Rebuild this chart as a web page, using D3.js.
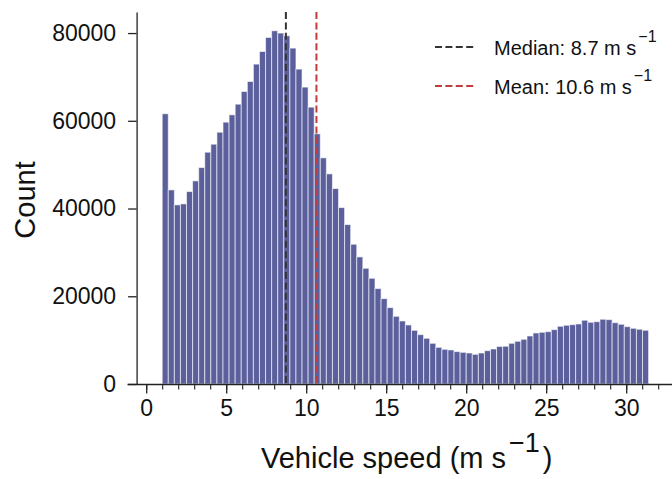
<!DOCTYPE html>
<html>
<head>
<meta charset="utf-8">
<script src="https://cdn.jsdelivr.net/npm/d3@7"></script>
<style>
  html, body { margin: 0; padding: 0; background: #fff; }
  svg { display: block; font-family: "Liberation Sans", Arial, Helvetica, sans-serif; }
</style>
</head>
<body>
<svg id="chart" width="672" height="479"></svg>
<script>
// ---- data ----
const binStart = 1.0;      // m s^-1, left edge of first bin
const binWidth = 0.38;     // m s^-1
const counts = [
  61600, 44250, 40830, 41060, 43870, 46300, 49340, 52840, 54670, 57400,
  59690, 61360, 63790, 66680, 68960, 72920, 75800, 79000, 80520, 80000,
  79380, 76570, 71780, 67680, 63110, 57030, 51550, 47900, 44550, 40220,
  36340, 31860, 28970, 26380, 24100, 21750, 19460, 17410, 15430, 14370,
  13460, 12240, 11250, 10420, 9280, 8360, 7910, 7760, 7380, 7220,
  7070, 6770, 7070, 7600, 7980, 8560, 8600, 9280, 9740, 10190,
  10950, 11630, 11790, 11930, 12390, 13160, 13390, 13530, 13690, 14530,
  14070, 14210, 14760, 14670, 13980, 13620, 13070, 12700, 12480, 12250
];
const xMajorTicks = [0, 5, 10, 15, 20, 25, 30];
const xMinorTicks = d3.range(0, 33, 1);
const yTicks = [0, 20000, 40000, 60000, 80000];
const medianSpeed = 8.73;
const meanSpeed = 10.64;
const stats = [
  { label: "Median", value: medianSpeed, color: "#333333" },
  { label: "Mean", value: meanSpeed, color: "#c23b3b" }
];

// ---- scales ----
const svg = d3.select("#chart");
const x = d3.scaleLinear().domain([-1.2, 32.9]).range([127, 672.6]);
const y = d3.scaleLinear().domain([0, 84800]).range([384, 12]);
const yAxisX = x(-0.6);

const bins = counts.map((c, i) => ({
  x0: binStart + i * binWidth,
  x1: binStart + (i + 1) * binWidth,
  count: c
}));

// ---- bars ----
svg.append("g")
  .selectAll("rect")
  .data(bins)
  .join("rect")
  .attr("x", d => x(d.x0))
  .attr("width", d => x(d.x1) - x(d.x0))
  .attr("y", d => y(d.count))
  .attr("height", d => y(0) - y(d.count))
  .attr("fill", "#5b609d")
  .attr("stroke", "#ffffff")
  .attr("stroke-opacity", 0.6)
  .attr("stroke-width", 1);

// ---- median / mean lines ----
svg.append("g")
  .selectAll("line")
  .data(stats)
  .join("line")
  .attr("x1", d => x(d.value))
  .attr("x2", d => x(d.value))
  .attr("y1", y.range()[1])
  .attr("y2", y(0))
  .attr("stroke", d => d.color)
  .attr("stroke-width", 2)
  .attr("stroke-dasharray", "7,3.4");

// ---- axes ----
const axisColor = "#222";
const xAxisG = svg.append("g")
  .attr("transform", `translate(0,${y(0)})`)
  .call(d3.axisBottom(x).tickValues(xMinorTicks).tickSize(5.5).tickSizeOuter(0).tickFormat(""));
xAxisG.select(".domain").attr("stroke", axisColor).attr("stroke-width", 1.3);
xAxisG.selectAll(".tick line").attr("stroke", axisColor).attr("stroke-width", 1.1);

const xMajG = svg.append("g")
  .attr("transform", `translate(0,${y(0)})`)
  .call(d3.axisBottom(x).tickValues(xMajorTicks).tickSize(9.5).tickPadding(6).tickSizeOuter(0).tickFormat(d3.format("d")));
xMajG.select(".domain").remove();
xMajG.selectAll(".tick line").attr("stroke", axisColor).attr("stroke-width", 1.3);
xMajG.selectAll(".tick text")
  .attr("font-size", 23).attr("fill", "#111")
  .attr("font-family", "Liberation Sans, Arial, sans-serif");

const yAxisG = svg.append("g")
  .attr("transform", `translate(${yAxisX},0)`)
  .call(d3.axisLeft(y).tickValues(yTicks).tickSize(8.5).tickPadding(12).tickSizeOuter(0).tickFormat(d3.format("d")));
yAxisG.select(".domain").attr("stroke", axisColor).attr("stroke-width", 1.3);
yAxisG.selectAll(".tick line").attr("stroke", axisColor).attr("stroke-width", 1.3);
yAxisG.selectAll(".tick text")
  .attr("font-size", 23).attr("fill", "#111")
  .attr("font-family", "Liberation Sans, Arial, sans-serif");

// ---- axis labels ----
svg.append("text")
  .attr("transform", `translate(35,${(y(0) + y.range()[1]) / 2 + 2}) rotate(-90)`)
  .attr("text-anchor", "middle")
  .attr("font-size", 29)
  .attr("fill", "#111")
  .text("Count");

const xl = svg.append("text")
  .attr("x", 261)
  .attr("y", 468)
  .attr("font-size", 29)
  .attr("fill", "#111");
xl.append("tspan").text("Vehicle speed (m s");
xl.append("tspan").attr("dx", 3).attr("dy", -16).attr("font-size", 27).text("\u22121");
xl.append("tspan").attr("dx", 3).attr("dy", 16).text(")");

// ---- legend ----
const leg = svg.append("g");
const legY = [47, 86];
stats.forEach((s, i) => {
  const ly = legY[i];
  leg.append("line")
    .attr("x1", 435).attr("x2", 475)
    .attr("y1", ly).attr("y2", ly)
    .attr("stroke", s.color)
    .attr("stroke-width", 2)
    .attr("stroke-dasharray", "7,3.4");
  const t = leg.append("text")
    .attr("x", 494)
    .attr("y", ly + 8)
    .attr("font-size", 20)
    .attr("fill", "#111");
  t.append("tspan").text(`${s.label}: ${s.value.toFixed(1)} m s`);
  t.append("tspan").attr("dx", 2).attr("dy", -13).attr("font-size", 16).text("\u22121");
});
</script>
</body>
</html>
